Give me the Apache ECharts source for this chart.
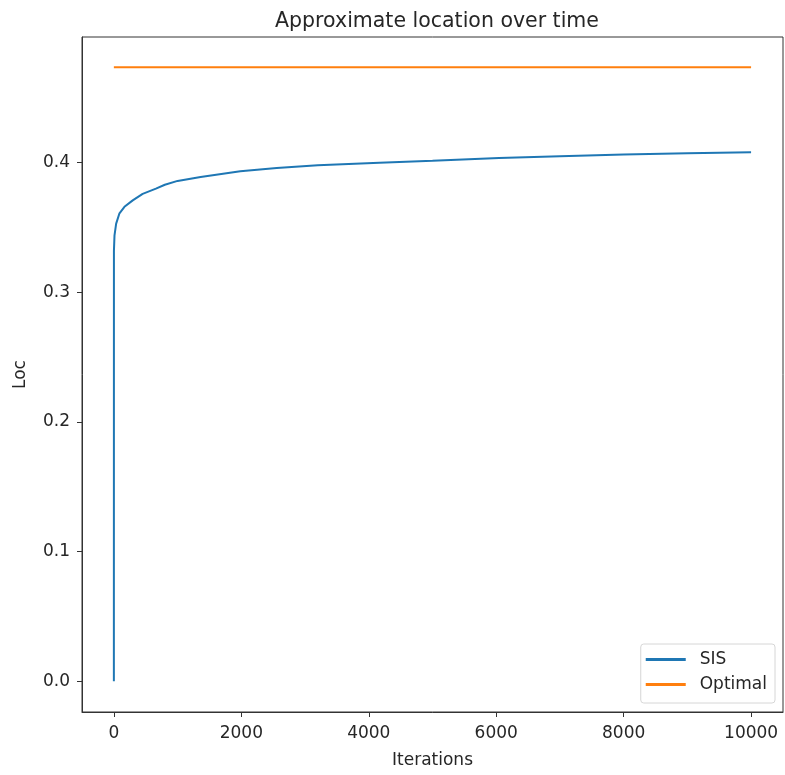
<!DOCTYPE html>
<html>
<head>
<meta charset="utf-8">
<script src="https://cdn.jsdelivr.net/npm/echarts@6/dist/echarts.min.js"></script>
<style>
  html, body { margin: 0; padding: 0; background: #fff; }
  #chartContainer { width: 785px; height: 775px; }
</style>
</head>
<body>
<div id="chartContainer"></div>
<script>
// values
var iterations = [0, 1, 10, 36, 88, 166, 296, 452, 660, 800, 1000, 1361, 1984, 2556, 3200, 4167, 5000, 6045, 7000, 8000, 9000, 9999];
var sisValues = [0.0, 0.332, 0.344, 0.353, 0.361, 0.366, 0.371, 0.376, 0.380, 0.383, 0.386, 0.389, 0.3935, 0.396, 0.398, 0.400, 0.4015, 0.4037, 0.405, 0.4063, 0.4073, 0.408];
var optimalIterations = [0, 9999];
var optimalValue = 0.4737;
var xTicks = [0, 2000, 4000, 6000, 8000, 10000];
var yTicks = [0.0, 0.1, 0.2, 0.3, 0.4];

var sisData = iterations.map(function (it, i) { return [it, sisValues[i]]; });
var optimalData = optimalIterations.map(function (it) { return [it, optimalValue]; });

var chart = echarts.init(document.getElementById('chartContainer'));
var font = 'DejaVu Sans';
var textColor = '#262626';

chart.setOption({
    animation: false,
    textStyle: { fontFamily: font },
    title: {
        text: 'Approximate location over time',
        left: 432,
        top: 6,
        textAlign: 'center',
        textStyle: { fontFamily: font, fontSize: 20.5, fontWeight: 'normal', color: textColor }
    },
    grid: {
        left: 82,
        right: 2,
        top: 37,
        bottom: 63,
        show: true,
        borderColor: '#333',
        borderWidth: 1
    },
    legend: {
        orient: 'vertical',
        right: 10,
        bottom: 72,
        padding: [7, 8, 10, 5],
        itemWidth: 40,
        itemHeight: 3,
        itemGap: 8,
        icon: 'rect',
        borderColor: '#d6d6d6',
        borderWidth: 1,
        borderRadius: 3,
        backgroundColor: 'rgba(255,255,255,0.8)',
        textStyle: { fontFamily: font, fontSize: 17, lineHeight: 17, color: textColor, padding: [0, 0, 0, 9] },
        data: ['SIS', 'Optimal']
    },
    xAxis: {
        type: 'value',
        min: -500,
        max: 10500,
        name: 'Iterations',
        nameLocation: 'middle',
        nameGap: 40,
        nameTextStyle: { fontFamily: font, fontSize: 17, color: textColor },
        axisLine: { show: true, onZero: false, lineStyle: { color: '#333' } },
        axisTick: { show: true, length: 5, customValues: xTicks, lineStyle: { color: '#333' } },
        axisLabel: {
            customValues: xTicks,
            margin: 13,
            fontFamily: font,
            fontSize: 17,
            color: textColor,
            formatter: function (v) { return String(v); }
        },
        splitLine: { show: false }
    },
    yAxis: {
        type: 'value',
        min: -0.0237,
        max: 0.497,
        name: 'Loc',
        nameLocation: 'middle',
        nameGap: 53,
        nameTextStyle: { fontFamily: font, fontSize: 17, color: textColor },
        axisLine: { show: true, onZero: false, lineStyle: { color: '#333' } },
        axisTick: { show: true, length: 5, customValues: yTicks, lineStyle: { color: '#333' } },
        axisLabel: {
            customValues: yTicks,
            margin: 12,
            fontFamily: font,
            fontSize: 17,
            color: textColor,
            formatter: function (v) { return v.toFixed(1); }
        },
        splitLine: { show: false }
    },
    series: [{
        name: 'SIS',
        type: 'line',
        data: sisData,
        showSymbol: false,
        symbol: 'none',
        lineStyle: { color: '#1f77b4', width: 2 },
        itemStyle: { color: '#1f77b4' }
    }, {
        name: 'Optimal',
        type: 'line',
        data: optimalData,
        showSymbol: false,
        symbol: 'none',
        lineStyle: { color: '#ff7f0e', width: 2 },
        itemStyle: { color: '#ff7f0e' }
    }]
});
</script>
</body>
</html>
